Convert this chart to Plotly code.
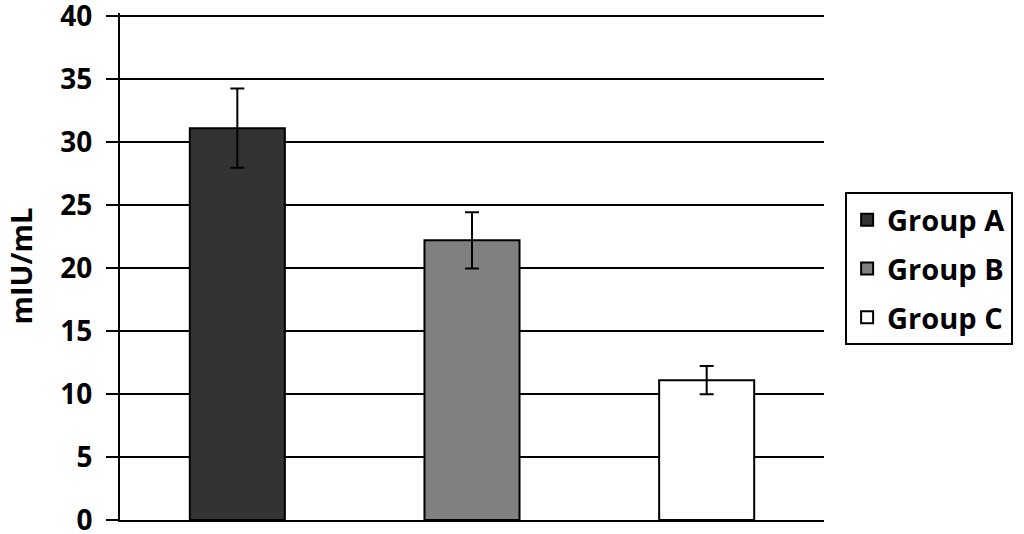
import plotly.graph_objects as go

groups = ["Group A", "Group B", "Group C"]
means = [31.1, 22.2, 11.1]
errors = [3.15, 2.23, 1.12]
colors = ["#333333", "#808080", "#ffffff"]
y_ticks = [0, 5, 10, 15, 20, 25, 30, 35, 40]

fig = go.Figure()
for i, g in enumerate(groups):
    fig.add_trace(go.Bar(
        x=[g], y=[means[i]], name=g, legendgroup=g,
        marker=dict(color=colors[i], line=dict(color="black", width=2)),
        width=0.405,
        error_y=dict(type="data", array=[errors[i]], visible=True,
                     color="black", thickness=2, width=7),
    ))

fig.add_annotation(
    text="mIU/mL", textangle=-90, xref="paper", yref="paper",
    x=-0.142, y=0.50, xanchor="center", yanchor="middle", showarrow=False,
    font=dict(size=29, family="Open Sans", weight="bold", color="black"),
)

fig.update_layout(
    width=1024, height=534,
    margin=dict(l=120, r=200, t=13, b=14, autoexpand=False),
    plot_bgcolor="white", paper_bgcolor="white",
    barmode="overlay",
    font=dict(family="Open Sans", size=26, color="black", weight="bold"),
    showlegend=True,
    legend=dict(
        x=1.03, y=0.646, xanchor="left", yanchor="top",
        bordercolor="black", borderwidth=2,
        font=dict(size=29, family="Open Sans", weight="bold"),
        tracegroupgap=8,
    ),
    xaxis=dict(
        showticklabels=False, showline=True, linecolor="black", linewidth=2,
        ticks="", showgrid=False, categoryorder="array", categoryarray=groups,
        automargin=False,
    ),
    yaxis=dict(
        range=[-0.001, 40.24], tickvals=y_ticks, ticks="outside", ticklen=12,
        tickwidth=2, tickcolor="black", showgrid=True, gridcolor="black",
        gridwidth=2, showline=True, linecolor="black", linewidth=2,
        zeroline=False, ticklabelstandoff=8, ticklabeloverflow="allow",
        tickfont=dict(size=28, weight="bold"), automargin=False,
    ),
)

fig.write_html("out.html", config={"displayModeBar": False},
               post_script="document.body.style.margin='0';")
